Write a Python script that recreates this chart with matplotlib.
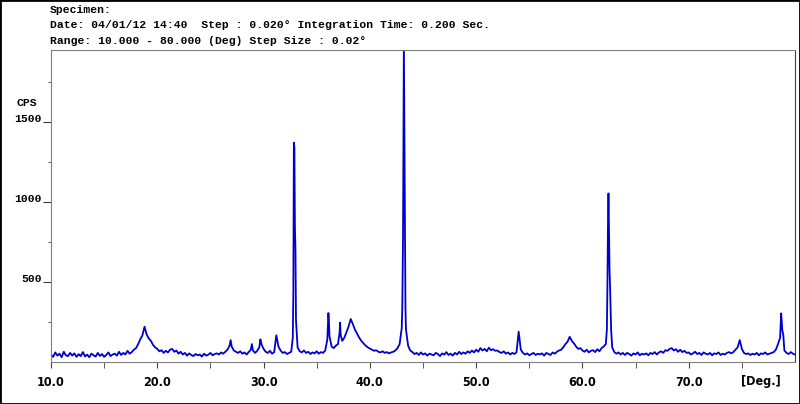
import matplotlib
matplotlib.use("Agg")
import matplotlib.pyplot as plt
import matplotlib.ticker as mticker
from matplotlib.patches import Rectangle
import numpy as np

BLUE = "#0000cc"
GRAY = "#808080"
MONO = ["Liberation Mono", "DejaVu Sans Mono"]
NARROW = ["Liberation Sans Narrow", "DejaVu Sans"]

# diffraction profile, one value every 0.2 deg from 10.0 to 80.0
profile_start, profile_end = 10.0, 80.0
profile_cps = [
    45, 30, 58, 38, 50, 28, 62, 40, 35, 55,          # 10.0 - 11.8
    38, 52, 30, 47, 35, 60, 33, 44, 28, 50,          # 12.0 - 13.8
    40, 32, 55, 36, 48, 30, 42, 58, 35, 45,          # 14.0 - 15.8
    50, 38, 62, 42, 55, 45, 68, 50, 60, 75,          # 16.0 - 17.8
    85, 110, 140, 165, 219, 170, 145, 130, 105, 90,  # 18.0 - 19.8
    80, 65, 72, 55, 68, 58, 75, 80, 62, 70,          # 20.0 - 21.8
    50, 62, 45, 55, 38, 52, 42, 35, 48, 40,          # 22.0 - 23.8
    45, 32, 50, 38, 44, 55, 40, 48, 52, 45,          # 24.0 - 25.8
    58, 50, 62, 75, 100, 95, 70, 62, 55, 65,         # 26.0 - 27.8
    50, 58, 45, 60, 75, 70, 55, 68, 90, 110,         # 28.0 - 29.8
    80, 62, 55, 68, 50, 60, 165, 95, 70, 55,         # 30.0 - 31.8
    60, 48, 55, 62, 420, 700, 90, 65, 58, 70,        # 32.0 - 33.8
    55, 62, 48, 58, 52, 65, 50, 60, 55, 70,          # 34.0 - 35.8
    140, 160, 95, 85, 100, 110, 244, 130, 150, 185,  # 36.0 - 37.8
    220, 267, 235, 200, 175, 150, 130, 115, 100, 90, # 38.0 - 39.8
    82, 75, 68, 72, 62, 58, 65, 55, 60, 52,          # 40.0 - 41.8
    58, 62, 70, 85, 110, 210, 1990, 200, 100, 70,    # 42.0 - 43.8
    60, 48, 55, 42, 58, 45, 52, 38, 50, 45,          # 44.0 - 45.8
    40, 55, 48, 35, 52, 44, 60, 42, 50, 38,          # 46.0 - 47.8
    55, 45, 62, 48, 58, 50, 65, 55, 70, 58,          # 48.0 - 49.8
    75, 62, 85, 70, 80, 65, 88, 72, 78, 68,          # 50.0 - 51.8
    70, 60, 55, 65, 50, 58, 45, 55, 48, 60,          # 52.0 - 53.8
    188, 75, 55, 45, 52, 40, 48, 55, 42, 50,         # 54.0 - 55.8
    45, 52, 38, 55, 48, 42, 58, 50, 62, 70,          # 56.0 - 57.8
    75, 90, 110, 125, 156, 130, 115, 95, 80, 85,     # 58.0 - 59.8
    70, 62, 75, 58, 68, 72, 60, 78, 65, 85,          # 60.0 - 61.8
    95, 110, 835, 467, 90, 60, 50, 58, 45, 55,       # 62.0 - 63.8
    42, 55, 48, 38, 52, 45, 58, 40, 50, 45,          # 64.0 - 65.8
    52, 40, 55, 48, 60, 45, 58, 65, 55, 72,          # 66.0 - 67.8
    68, 80, 85, 70, 78, 62, 75, 60, 68, 55,          # 68.0 - 69.8
    58, 45, 52, 62, 48, 55, 42, 58, 50, 45,          # 70.0 - 71.8
    55, 40, 52, 48, 58, 42, 50, 45, 55, 60,          # 72.0 - 73.8
    52, 60, 75, 90, 135, 80, 55, 48, 52, 42,         # 74.0 - 75.8
    50, 45, 55, 40, 52, 48, 58, 45, 50, 55,          # 76.0 - 77.8
    60, 75, 110, 150, 200, 70, 55, 48, 60, 50,       # 78.0 - 79.8
    45,                                              # 80.0
]

# extra points on the sharp reflections (between the 0.2 deg samples)
peak_2theta = [26.9, 28.9, 29.7,
               32.75, 32.85, 32.9, 32.95, 33.05,
               36.05, 36.1, 36.15, 37.15, 37.25,
               43.05, 43.12, 43.26, 43.3, 43.35,
               62.3, 62.35, 62.45, 62.5, 62.55, 62.7,
               78.7, 78.9]
peak_cps = [135, 110, 140,
            150, 1369, 1340, 835, 260,
            220, 304, 250, 180, 170,
            330, 773, 1323, 773, 330,
            200, 467, 1052, 835, 580, 200,
            302, 167]

x_ticks = [10, 20, 30, 40, 50, 60, 70]
y_ticks = [500, 1000, 1500]
header = [
    "Specimen:",
    "Date: 04/01/12 14:40  Step : 0.020\u00b0 Integration Time: 0.200 Sec.",
    "Range: 10.000 - 80.000 (Deg) Step Size : 0.02\u00b0",
]

grid = np.linspace(profile_start, profile_end, len(profile_cps))
two_theta = np.concatenate([grid, peak_2theta])
cps = np.concatenate([profile_cps, peak_cps])
order = np.argsort(two_theta, kind="stable")
two_theta, cps = two_theta[order], cps[order]

fig = plt.figure(figsize=(8.0, 4.04), dpi=100)
ax = fig.add_axes([51 / 800, 1 - 361.7 / 404, (795 - 51) / 800, (361.7 - 50) / 404])

ax.plot(two_theta, cps, color=BLUE, linewidth=1.3)

ax.set_xlim(10, 80)
ax.set_ylim(0, 1948)

for side in ("left", "bottom", "top"):
    ax.spines[side].set_color(GRAY)
ax.spines["right"].set_color("#404040")

ax.set_xticks(x_ticks)
ax.set_xticklabels([f"{v:.1f}" for v in x_ticks])
ax.xaxis.set_minor_locator(mticker.FixedLocator([15, 25, 35, 45, 55, 65, 75]))
ax.tick_params(axis="x", which="both", direction="out", length=4, color="#404040",
               pad=6, labelsize=9)
for lab in ax.get_xticklabels():
    lab.set_family(NARROW)
    lab.set_fontweight("bold")
    lab.set_fontstretch("condensed")

ax.set_yticks(y_ticks)
ax.set_yticklabels([str(v) for v in y_ticks])
ax.yaxis.set_minor_locator(mticker.FixedLocator([250, 750, 1250, 1750]))
ax.tick_params(axis="y", which="major", direction="out", length=6, color="#404040",
               pad=0.5, labelsize=8.2)
ax.tick_params(axis="y", which="minor", direction="out", length=2.5, color="#404040")
for lab in ax.get_yticklabels():
    lab.set_family(MONO)
    lab.set_fontweight("bold")
    lab.set_va("baseline")

ax.text(-0.047, 1600, "CPS", transform=ax.get_yaxis_transform(), ha="left",
        va="baseline", fontsize=8.2, fontweight="bold", family=MONO)
ax.text(76.8, -0.043, "[Deg.]", transform=ax.get_xaxis_transform(), ha="center",
        va="top", fontsize=9, fontweight="bold", family=NARROW,
        fontstretch="condensed")

for i, line in enumerate(header):
    fig.text(50 / 800, 1 - (10 + 15.5 * i) / 404, line, ha="left", va="center",
             fontsize=8.2, fontweight="bold", family=MONO)

fig.patches.append(Rectangle((0, 0), 1, 1, transform=fig.transFigure, fill=False,
                             edgecolor="black", linewidth=2))

fig.savefig("out.png", dpi=100)
